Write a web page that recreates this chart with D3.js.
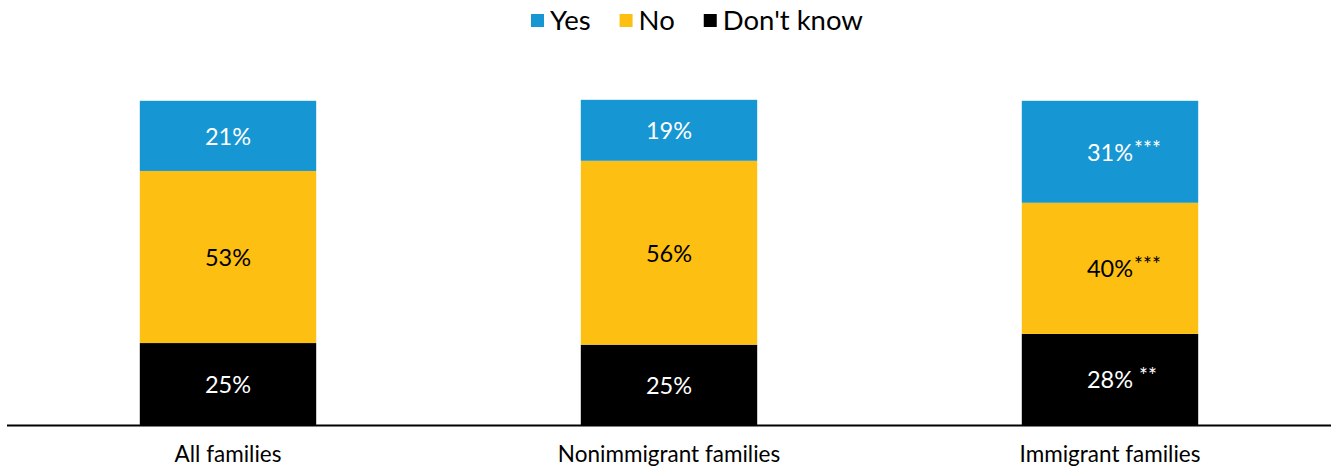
<!DOCTYPE html>
<html>
<head>
<meta charset="utf-8">
<script src="https://cdn.jsdelivr.net/npm/d3@7"></script>
<style>
  body { margin: 0; background: #fff; }
  svg { font-family: Lato, "Open Sans", sans-serif; }
</style>
</head>
<body>
<svg></svg>
<script>
const groups = ['All families', 'Nonimmigrant families', 'Immigrant families'];
const seriesNames = ['Don\'t know', 'No', 'Yes'];
const dontKnow = [25.0, 24.5, 27.8];
const no = [52.5, 56.1, 40.0];
const yes = [21.4, 18.6, 31.1];
const dontKnowSig = ['', '', '**'];
const noSig = ['', '', '***'];
const yesSig = ['', '', '***'];
const legendOrder = ['Yes', 'No', 'Don\'t know'];

const WIDTH = 1334;
const HEIGHT = 472;
const BASE = 425;

const colors = { 'Yes': '#1696d2', 'No': '#fdbf11', 'Don\'t know': '#000000' };
const textColors = { 'Yes': '#ffffff', 'No': '#000000', 'Don\'t know': '#ffffff' };

const rows = groups.map((g, i) => ({
  group: g,
  'Don\'t know': dontKnow[i],
  'No': no[i],
  'Yes': yes[i]
}));
const sigs = { 'Don\'t know': dontKnowSig, 'No': noSig, 'Yes': yesSig };

const x = d3.scaleBand().domain(groups).range([7.5, 1330.5]).paddingInner(0.6).paddingOuter(0.3);
const y = d3.scaleLinear().domain([0, 100]).range([BASE, 97.2]);

const svg = d3.select('svg').attr('width', WIDTH).attr('height', HEIGHT);

const stacked = d3.stack().keys(seriesNames)(rows);

const layer = svg.selectAll('g.layer')
  .data(stacked)
  .enter()
  .append('g')
  .attr('class', 'layer');

layer.selectAll('rect')
  .data(d => d.map(v => ({ key: d.key, v })))
  .enter()
  .append('rect')
  .attr('x', d => x(d.v.data.group))
  .attr('width', x.bandwidth())
  .attr('y', d => y(d.v[1]))
  .attr('height', d => y(d.v[0]) - y(d.v[1]))
  .attr('fill', d => colors[d.key]);

// value labels
const labels = layer.selectAll('text.val')
  .data(d => d.map((v, i) => ({ key: d.key, v, i })))
  .enter()
  .append('text')
  .attr('class', 'val')
  .attr('x', d => x(d.v.data.group) + x.bandwidth() / 2)
  .attr('y', d => (y(d.v[0]) + y(d.v[1])) / 2 + 9)
  .attr('text-anchor', 'middle')
  .attr('fill', d => textColors[d.key])
  .style('font-size', '23.5px')
  .text(d => Math.round(d.v.data[d.key]) + '%');

// significance stars, placed right after the centred value
labels.filter(d => sigs[d.key][d.i]).each(function (d) {
  const w = this.getComputedTextLength();
  const cx = x(d.v.data.group) + x.bandwidth() / 2;
  const cy = (y(d.v[0]) + y(d.v[1])) / 2;
  d3.select(this.parentNode).append('text')
    .attr('x', cx + w / 2 + (d.key === 'Don\'t know' ? 6 : 1))
    .attr('y', cy + 4)
    .attr('fill', textColors[d.key])
    .style('font-size', '21px')
    .text(sigs[d.key][d.i]);
});

// baseline
svg.append('line')
  .attr('x1', 7).attr('x2', 1331)
  .attr('y1', BASE + 0.5).attr('y2', BASE + 0.5)
  .attr('stroke', '#000')
  .attr('stroke-width', 2);

// category labels
svg.append('g')
  .attr('transform', `translate(0,${BASE})`)
  .call(d3.axisBottom(x).tickSize(0).tickPadding(0))
  .call(g => g.select('.domain').remove())
  .call(g => g.selectAll('text')
    .attr('dy', null)
    .attr('y', 37)
    .style('font-family', 'Lato, sans-serif')
    .style('font-size', '22.5px')
    .attr('fill', '#000'));

// legend
const legend = svg.append('g');
let lx = 531;
legendOrder.forEach(name => {
  const item = legend.append('g').attr('transform', `translate(${lx},0)`);
  item.append('rect')
    .attr('x', 0).attr('y', 14)
    .attr('width', 13).attr('height', 13)
    .attr('fill', colors[name]);
  const t = item.append('text')
    .attr('x', 19).attr('y', 30)
    .style('font-size', '27.5px')
    .attr('fill', '#000')
    .text(name);
  lx += 19 + t.node().getComputedTextLength() + 29;
});
</script>
</body>
</html>
